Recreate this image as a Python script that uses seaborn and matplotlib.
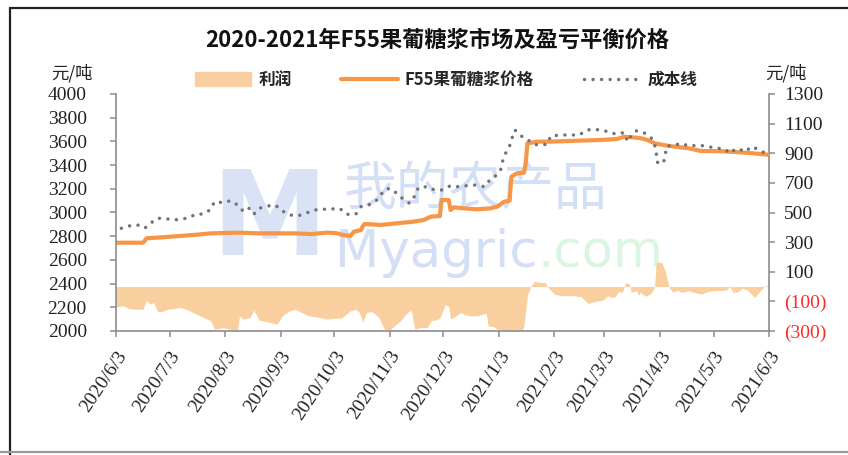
import matplotlib
matplotlib.use("Agg")
import matplotlib.pyplot as plt
import matplotlib.lines as mlines
import matplotlib.patches as mpatches
import seaborn as sns
import numpy as np
import pandas as pd

# days counted from 2020/6/3
price_day = [0, 15, 16, 17, 26, 43, 53, 68, 81, 99, 109, 118, 123, 127, 131, 133, 137, 138, 139,
             148, 157, 166, 172, 176, 181, 182, 186, 187, 189, 194, 202, 209, 213, 217, 220, 221,
             224, 228, 229, 230, 236, 243, 258, 271, 280, 284, 289, 293, 297, 301, 308, 320, 327,
             338, 349, 360, 365]
price_val = [2745, 2745, 2760, 2782, 2791, 2810, 2824, 2830, 2824, 2824, 2818, 2830, 2826, 2810,
             2802, 2838, 2852, 2886, 2903, 2895, 2909, 2922, 2937, 2965, 2970, 3105, 3105, 3021,
             3044, 3035, 3027, 3035, 3049, 3091, 3100, 3302, 3330, 3336, 3415, 3584, 3598, 3598,
             3606, 3612, 3620, 3640, 3634, 3628, 3612, 3584, 3564, 3542, 3519, 3517, 3508, 3494,
             3487]

cost_day = [3, 7, 12, 16, 20, 23, 27, 32, 37, 41, 45, 49, 53, 55, 60, 64, 68, 71, 74, 77, 80, 85,
            89, 93, 97, 102, 107, 111, 116, 121, 125, 129, 134, 137, 141, 145, 148, 150, 153, 157,
            160, 164, 167, 169, 174, 178, 182, 187, 191, 196, 201, 206, 208, 211, 215, 216, 218,
            220, 221, 222, 223, 228, 232, 234, 236, 241, 243, 249, 254, 259, 263, 268, 272, 276,
            279, 284, 286, 288, 291, 295, 299, 301, 302, 302.5, 306, 307, 308, 312, 316, 320, 325,
            330, 335, 340, 343, 347, 352, 355, 359, 364]
cost_val = [2867, 2886, 2895, 2867, 2917, 2951, 2951, 2937, 2943, 2960, 2987, 2987, 3027, 3091,
            3083, 3100, 3063, 3013, 3041, 2985, 3035, 3055, 3063, 3013, 2979, 2973, 2999, 3021,
            3027, 3030, 3035, 2985, 2985, 3049, 3063, 3091, 3148, 3190, 3204, 3162, 3120, 3078,
            3139, 3210, 3218, 3190, 3190, 3226, 3218, 3226, 3232, 3218, 3260, 3289, 3359, 3429,
            3508, 3561, 3612, 3654, 3696, 3626, 3598, 3575, 3570, 3575, 3646, 3654, 3654, 3654,
            3696, 3702, 3690, 3682, 3662, 3674, 3598, 3654, 3690, 3674, 3634, 3578, 3500, 3424,
            3415, 3491, 3561, 3567, 3584, 3561, 3567, 3561, 3542, 3539, 3500, 3542, 3513, 3556,
            3533, 3491]

profit_day = [0, 4, 7, 10, 15, 17, 19, 21, 23, 25, 29, 36, 40, 45, 49, 53, 55, 60, 65, 68, 69, 71,
              75, 77, 80, 84, 90, 93, 97, 100, 103, 108, 114, 118, 122, 126, 131, 134, 136, 138,
              140, 143, 147, 150, 153, 156, 159, 162, 165, 167, 170, 174, 176, 180, 181, 184, 186,
              187, 190, 193, 195, 198, 202, 207, 208, 211, 213, 221, 227, 228, 230, 232, 234, 237,
              240, 241, 245, 249, 256, 260, 264, 267, 272, 275, 277, 279, 281, 283, 285, 287, 288,
              291, 292, 293, 296, 299, 301, 302, 305, 307, 309, 311, 314, 316, 320, 323, 327, 331,
              334, 341, 343, 345, 348, 350, 353, 357, 361, 363, 365]
profit_val = [-137, -130, -148, -153, -153, -92, -119, -107, -164, -171, -153, -141, -157, -186,
              -209, -232, -288, -277, -293, -288, -198, -220, -209, -159, -227, -236, -254, -198,
              -164, -153, -171, -198, -209, -220, -214, -214, -164, -153, -175, -239, -175, -168,
              -209, -288, -293, -261, -232, -186, -157, -288, -277, -277, -232, -220, -214, -123,
              -134, -220, -198, -175, -191, -198, -198, -180, -266, -270, -288, -293, -293, -266,
              -58, 6, 35, 28, 28, 0, -51, -62, -62, -69, -114, -103, -92, -62, -73, -69, -33, -39,
              28, 17, -39, -28, -62, -39, -66, -46, -6, 164, 164, 107, 0, -36, -25, -39, -28, -39,
              -51, -33, -28, -25, 0, -39, -33, -11, -25, -73, -17, 5, 11]

start = pd.Timestamp("2020-06-03")
month_ticks = pd.date_range("2020-06-01", "2021-06-03", freq="MS") + pd.Timedelta(days=2)
left_ticks = list(range(2000, 4001, 200))
right_ticks = list(range(-300, 1301, 200))

price = pd.DataFrame({"date": start + pd.to_timedelta(price_day, unit="D"), "value": price_val})
cost = pd.DataFrame({"date": start + pd.to_timedelta(cost_day, unit="D"), "value": cost_val})
profit = pd.DataFrame({"date": start + pd.to_timedelta(profit_day, unit="D"), "value": profit_val})

sns.set_theme(style="white")
plt.rcParams["font.family"] = ["Noto Sans CJK SC", "DejaVu Sans"]

orange = "#F79646"
fill_c = "#FACF9F"
grey = "#727378"
spine_c = "#8C8C8C"
serif = ["Liberation Serif", "DejaVu Serif"]

fig = plt.figure(figsize=(8.48, 4.55), dpi=100)
ax = fig.add_axes([116 / 848, 1 - 331 / 455, (769 - 116) / 848, (331 - 94) / 455])
ax2 = ax.twinx()
ax.set_zorder(ax2.get_zorder() + 1)
ax.patch.set_visible(False)

# watermark
fig.text(0.318, 0.51, "M", fontsize=84, fontweight="heavy", color="#D9E3F5", ha="center", va="center",
         family=["DejaVu Sans"], zorder=-1)
fig.text(0.405, 0.585, "我的农产品", fontsize=38, color="#D3DFF4", ha="left", va="center", zorder=-1)
wm = fig.text(0.395, 1 - 278 / 455, "Myagric", fontsize=37, color="#D3DFF4", ha="left", va="bottom",
              family=["DejaVu Sans"], zorder=-1)
fig.add_artist(matplotlib.text.Annotation(".com", xy=(1, 0), xycoords=wm, ha="left", va="bottom",
                                          fontsize=37, color="#DAF6E0", family=["DejaVu Sans"],
                                          zorder=-1))

# profit area on right axis
ax2.fill_between(profit["date"], 0, profit["value"], color=fill_c, linewidth=0)
ax2.set_ylim(-300, 1300)
ax2.set_yticks(right_ticks)
ax2.set_yticklabels([f"({abs(v)})" if v < 0 else str(v) for v in right_ticks])

# price and cost on left axis
sns.lineplot(data=price, x="date", y="value", ax=ax, color=orange, linewidth=3.0,
             solid_capstyle="butt")
sns.lineplot(data=cost, x="date", y="value", ax=ax, color=grey, linewidth=2.5,
             linestyle=(0, (0.01, 2.45)), dash_capstyle="round")
ax.set_ylim(2000, 4000)
ax.set_yticks(left_ticks)
ax.set_xlim(pd.Timestamp("2020-06-03"), pd.Timestamp("2021-06-03"))
ax.set_xticks(month_ticks)
ax.set_xticklabels([f"{d.year}/{d.month}/{d.day}" for d in month_ticks], rotation=56,
                   ha="right", rotation_mode="anchor")
ax.set_xlabel("")
ax.set_ylabel("")
ax2.set_ylabel("")

for a in (ax, ax2):
    for s in a.spines.values():
        s.set_visible(False)
ax.spines["left"].set_visible(True)
ax.spines["bottom"].set_visible(True)
ax2.spines["right"].set_visible(True)
for a in (ax, ax2):
    for s in a.spines.values():
        s.set_color(spine_c)
        s.set_linewidth(1.2)
    a.tick_params(axis="both", which="major", length=4, width=1.1, color=spine_c,
                  labelsize=14, labelcolor="#222222", pad=3)
ax.tick_params(axis="x", direction="out", bottom=True, pad=8)
ax.tick_params(axis="y", direction="out", left=True, pad=17)
ax2.tick_params(axis="y", direction="out", right=True, pad=7)
for t in ax.get_xticklabels() + ax.get_yticklabels() + ax2.get_yticklabels():
    t.set_family(serif)
for t, v in zip(ax2.get_yticklabels(), right_ticks):
    t.set_color("#FF2A2A" if v < 0 else "#222222")

# titles and units
fig.text(437 / 848, 1 - 40 / 455, "2020-2021年F55果葡糖浆市场及盈亏平衡价格", ha="center", va="center",
         fontsize=16, fontweight="bold", color="#111111")
fig.text(72 / 848, 1 - 73 / 455, "元/吨", ha="center", va="center", fontsize=12.5, color="#222222")
fig.text(786 / 848, 1 - 73 / 455, "元/吨", ha="center", va="center", fontsize=12.5, color="#222222")

# legend
h1 = mpatches.Patch(color=fill_c, label="利润")
h2 = mlines.Line2D([], [], color=orange, linewidth=3.0, label="F55果葡糖浆价格")
h3 = mlines.Line2D([], [], color=grey, linewidth=2.5, linestyle=(0, (0.01, 2.45)),
                   dash_capstyle="round", label="成本线")
fig.legend(handles=[h1, h2, h3], loc="center", bbox_to_anchor=(446 / 848, 1 - 80 / 455), ncol=3,
           frameon=False, handlelength=3.4, handleheight=0.9, columnspacing=3.0,
           handletextpad=0.4, prop={"weight": "bold", "size": 12})

# outer frame
fig.add_artist(mlines.Line2D([10 / 848, 10 / 848], [0, 1 - 8 / 455], color="#222222", linewidth=1.6,
                             transform=fig.transFigure))
fig.add_artist(mlines.Line2D([10 / 848, 1], [1 - 8 / 455, 1 - 8 / 455], color="#222222", linewidth=1.6,
                             transform=fig.transFigure))
fig.add_artist(mlines.Line2D([0, 1], [1 - 452 / 455, 1 - 452 / 455], color="#999999", linewidth=1.6,
                             transform=fig.transFigure))

fig.savefig("out.png", dpi=100)
